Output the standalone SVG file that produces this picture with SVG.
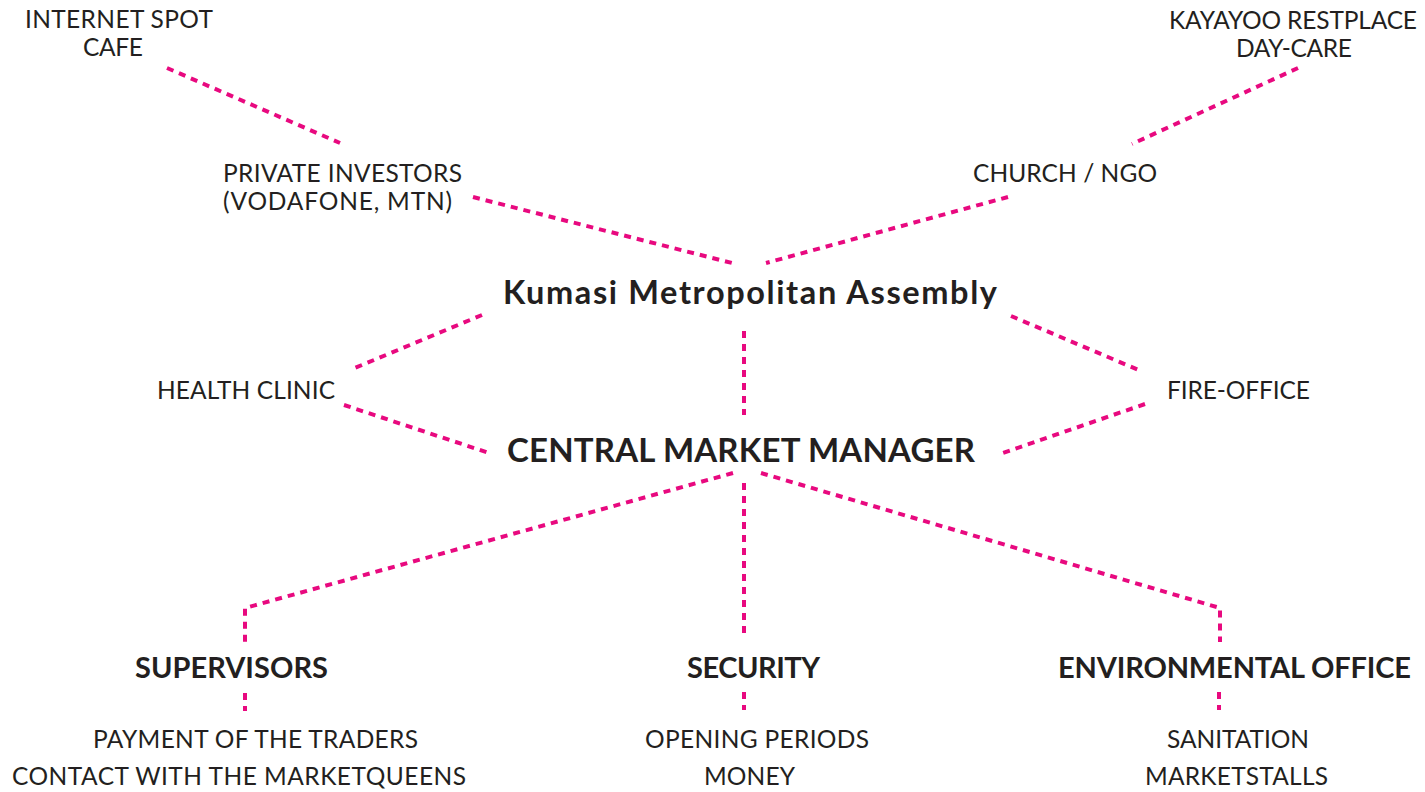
<svg xmlns="http://www.w3.org/2000/svg" width="1425" height="792" viewBox="0 0 1425 792">
<style>
text{font-family:Lato,"Open Sans","Liberation Sans",sans-serif;fill:#231f20;}
.r{font-size:24.5px;font-weight:400;}
.b{font-weight:700;}
.c{fill:none;stroke:#e8097f;stroke-width:4;stroke-dasharray:7 6;}
</style>
<rect width="1425" height="792" fill="#ffffff"/>
<g id="connectors">
<line class="c" x1="167" y1="68" x2="340" y2="143"/>
<line class="c" x1="473" y1="197" x2="732" y2="263"/>
<line class="c" x1="1298" y1="68" x2="1132" y2="144"/>
<line class="c" x1="1008" y1="197" x2="766" y2="263"/>
<line class="c" x1="482" y1="315" x2="350" y2="370"/>
<line class="c" x1="344" y1="405" x2="489" y2="453"/>
<line class="c" x1="1011" y1="316" x2="1141" y2="371"/>
<line class="c" x1="1145" y1="404" x2="1003" y2="453"/>
<line class="c" x1="744" y1="331" x2="744" y2="415"/>
<polyline class="c" points="733,473 245,608 245,642"/>
<line class="c" x1="245" y1="693" x2="245" y2="711"/>
<line class="c" x1="744" y1="483" x2="744" y2="633"/>
<line class="c" x1="744" y1="692" x2="744" y2="710"/>
<polyline class="c" points="761,473 1220,608 1220,642"/>
<line class="c" x1="1219" y1="692" x2="1219" y2="710"/>
</g>
<g id="internet-cafe">
<text class="r" x="25" y="28" textLength="188">INTERNET SPOT</text>
<text class="r" x="83" y="56" textLength="60">CAFE</text>
</g>
<g id="private-investors">
<text class="r" x="223" y="182" textLength="239">PRIVATE INVESTORS</text>
<text class="r" x="223" y="210" textLength="229">(VODAFONE, MTN)</text>
</g>
<g id="kayayoo">
<text class="r" x="1169" y="29" textLength="248">KAYAYOO RESTPLACE</text>
<text class="r" x="1236" y="57" textLength="116">DAY-CARE</text>
</g>
<g id="church-ngo">
<text class="r" x="973" y="182" textLength="184">CHURCH / NGO</text>
</g>
<g id="kma">
<text class="b" x="503" y="304" font-size="32.5" textLength="494">Kumasi Metropolitan Assembly</text>
</g>
<g id="health-clinic">
<text class="r" x="157" y="399" textLength="178">HEALTH CLINIC</text>
</g>
<g id="fire-office">
<text class="r" x="1167" y="399" textLength="143">FIRE-OFFICE</text>
</g>
<g id="cmm">
<text class="b" x="507" y="462" font-size="33" textLength="468">CENTRAL MARKET MANAGER</text>
</g>
<g id="supervisors">
<text class="b" x="135" y="678" font-size="29" textLength="193">SUPERVISORS</text>
</g>
<g id="security">
<text class="b" x="687" y="678" font-size="29" textLength="133">SECURITY</text>
</g>
<g id="environmental-office">
<text class="b" x="1058" y="678" font-size="29" textLength="353">ENVIRONMENTAL OFFICE</text>
</g>
<g id="supervisors-tasks">
<text class="r" x="93" y="748" textLength="325">PAYMENT OF THE TRADERS</text>
<text class="r" x="12" y="785" textLength="454">CONTACT WITH THE MARKETQUEENS</text>
</g>
<g id="security-tasks">
<text class="r" x="645" y="748" textLength="224">OPENING PERIODS</text>
<text class="r" x="704" y="785" textLength="91">MONEY</text>
</g>
<g id="environmental-tasks">
<text class="r" x="1167" y="748" textLength="142">SANITATION</text>
<text class="r" x="1145" y="785" textLength="183">MARKETSTALLS</text>
</g>
</svg>
